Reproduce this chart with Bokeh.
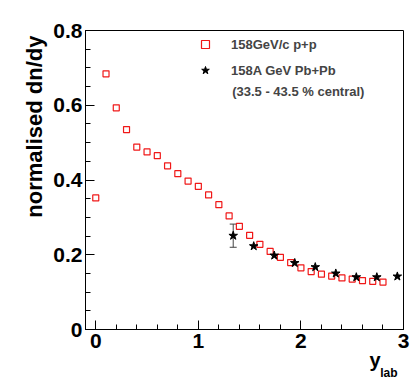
from bokeh.plotting import figure
from bokeh.models import (Range1d, FixedTicker, Label, Legend, LegendItem,
                          ColumnDataSource, Whisker, TeeHead, Title)
from bokeh.embed import file_html
from bokeh.resources import INLINE

# p+p data (158 GeV/c)
pp_y = [0.0, 0.1, 0.2, 0.3, 0.4, 0.5, 0.6, 0.7, 0.8, 0.9, 1.0, 1.1, 1.2, 1.3,
        1.4, 1.5, 1.6, 1.7, 1.8, 1.9, 2.0, 2.1, 2.2, 2.3, 2.4, 2.5, 2.6, 2.7, 2.8]
pp_dndy = [0.352, 0.684, 0.593, 0.535, 0.488, 0.475, 0.465, 0.438, 0.417, 0.397,
           0.383, 0.360, 0.334, 0.304, 0.276, 0.252, 0.228, 0.209, 0.193, 0.179,
           0.165, 0.155, 0.148, 0.143, 0.138, 0.135, 0.131, 0.129, 0.127]

# Pb+Pb data (158A GeV, 33.5-43.5 % central)
pb_y = [1.34, 1.54, 1.74, 1.94, 2.14, 2.34, 2.54, 2.74, 2.94]
pb_dndy = [0.251, 0.223, 0.198, 0.178, 0.167, 0.150, 0.140, 0.140, 0.142]
pb_err = [0.031, 0.0, 0.0, 0.0, 0.0, 0.0, 0.0, 0.0, 0.0]

x_major = [0, 1, 2, 3]
x_minor = [i * 0.2 for i in range(16)]
y_major = [0, 0.2, 0.4, 0.6, 0.8]
y_minor = [i * 0.05 for i in range(17)]

FONT = "Liberation Sans"

p = figure(width=415, height=391, output_backend="svg", toolbar_location=None,
           x_range=Range1d(-0.1, 3.0), y_range=Range1d(0, 0.8),
           min_border_left=85, min_border_right=12, min_border_top=30,
           min_border_bottom=62)
p.background_fill_color = "white"
p.border_fill_color = "white"
p.outline_line_color = "black"
p.outline_line_width = 1
p.xgrid.visible = False
p.ygrid.visible = False

for ax, maj, mnr in ((p.xaxis[0], x_major, x_minor), (p.yaxis[0], y_major, y_minor)):
    ax.ticker = FixedTicker(ticks=maj, minor_ticks=mnr)
    ax.major_tick_in = 9
    ax.major_tick_out = 0
    ax.minor_tick_in = 5
    ax.minor_tick_out = 0
    ax.axis_line_color = "black"
    ax.major_tick_line_color = "black"
    ax.minor_tick_line_color = "black"
    ax.major_label_text_font = FONT
    ax.major_label_text_font_style = "bold"
    ax.major_label_text_font_size = "21px"
    ax.major_label_text_color = "black"

p.xaxis.major_label_standoff = 4
p.yaxis.major_label_standoff = 3
p.yaxis.major_label_overrides = {0: "0", 0.2: "0.2", 0.4: "0.4", 0.6: "0.6", 0.8: "0.8"}

# y axis title, aligned to the top end of the axis
p.add_layout(Title(text="normalised dn/dy", align="right", offset=5,
                   vertical_align="bottom", standoff=7, text_font=FONT,
                   text_font_style="bold", text_font_size="22px",
                   text_color="black"), "left")

pp = p.scatter(pp_y, pp_dndy, marker="square", size=6, fill_color=None,
               line_color="#f01818", line_width=1.2)

src = ColumnDataSource(dict(x=[pb_y[0]], upper=[pb_dndy[0] + pb_err[0]],
                            lower=[pb_dndy[0] - pb_err[0]]))
w = Whisker(source=src, base="x", upper="upper", lower="lower",
            line_color="#444444", line_width=1,
            upper_head=TeeHead(size=7, line_color="#444444"),
            lower_head=TeeHead(size=7, line_color="#444444"))
p.add_layout(w)

pb = p.scatter(pb_y, pb_dndy, marker="star", size=9, fill_color="black",
               line_color="black")

legend = Legend(items=[LegendItem(label="158GeV/c p+p", renderers=[pp]),
                       LegendItem(label="158A GeV Pb+Pb", renderers=[pb])],
                location=(110, 249), orientation="vertical",
                padding=0, margin=0, spacing=6,
                glyph_width=20, glyph_height=20, label_height=20,
                label_standoff=16,
                label_text_font=FONT, label_text_font_style="bold",
                label_text_font_size="13px",
                border_line_color=None, background_fill_alpha=0)
p.add_layout(legend)

p.add_layout(Label(x=1.33, y=0.637, text="(33.5 - 43.5 % central)",
                   text_font=FONT, text_font_style="bold", text_font_size="13px",
                   text_baseline="middle"))

# x axis title: y with subscript "lab"
p.add_layout(Title(text="y", align="right", offset=23, vertical_align="top",
                   standoff=-3, text_font=FONT, text_font_style="bold",
                   text_font_size="20px", text_color="black"), "below")
p.add_layout(Title(text="lab", align="right", offset=6, vertical_align="top",
                   standoff=-12, text_font=FONT, text_font_style="bold",
                   text_font_size="12px", text_color="black"), "below")

open("out.html", "w").write(file_html(p, INLINE))
